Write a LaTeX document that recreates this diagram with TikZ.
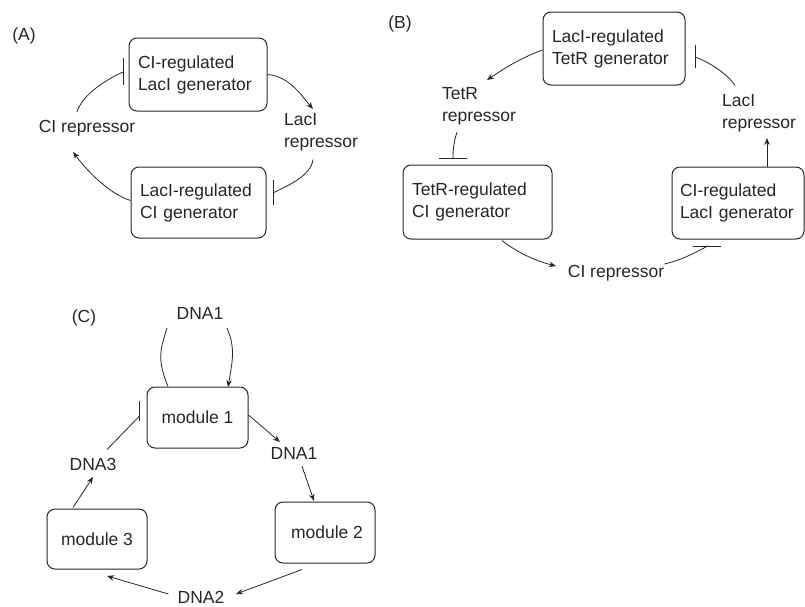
\documentclass[tikz,border=0pt]{standalone}
\usepackage{fontspec}
\setmainfont{Liberation Sans}
\usetikzlibrary{arrows.meta}
\begin{document}
\begin{tikzpicture}[x=1pt,y=-1pt,
  txt/.style={font=\fontsize{17.5}{22}\selectfont, text=black!85},
  box/.style={txt, draw=black!85, rounded corners=8pt, line width=1pt, inner xsep=9pt, inner ysep=0pt, align=left},
  mod/.style={txt, draw=black!85, rounded corners=8pt, line width=1pt, inner sep=0pt},
  lbl/.style={txt, align=left, inner sep=0pt},
  conn/.style={line width=0.8pt, draw=black!85},
  arr/.style={conn, -{Stealth[length=7pt,width=5.5pt]}},
  barline/.style={line width=1pt, draw=black!85}
]
\useasboundingbox (0,0) rectangle (805,606);

% ---------- Panel A ----------
\node[lbl] (la) at (24,36) {(A)};
\node[box, text width=120pt, minimum height=73pt] (a1) at (198,74.5) {CI-regulated\\LacI generator};
\node[box, text width=117pt, minimum height=71pt] (a2) at (198.5,202.5) {LacI-regulated\\CI generator};
\node[lbl] (acI) at (87,128) {CI repressor};
\node[lbl] (alac) at (321,132.5) {LacI\\repressor};

\coordinate (a1end) at (313,109);
\coordinate (a2bar) at (273,193);
\coordinate (a3end) at (73,152);
\coordinate (a4bar) at (123,72);

\draw[arr] (a1.east) .. controls +(22,2) and +(-12,-14) .. (a1end);
\draw[conn] ([shift={(-8,8)}]alac.south) .. controls +(-2,16) and +(16,-8) .. (a2bar);
\draw[barline] (a2bar) ++(0,-13) -- ++(0,25);
\draw[arr] ([shift={(0,-2)}]a2.west) .. controls +(-24,-8) and +(12,16) .. (a3end);
\draw[conn] ([shift={(-10,-8)}]acI.north) .. controls +(5,-16) and +(-20,9) .. (a4bar);
\draw[barline] (a4bar) ++(0,-14) -- ++(0,27);

% ---------- Panel B ----------
\node[lbl] (lb) at (400,24) {(B)};
\node[box, text width=124pt, minimum height=73pt] (b1) at (614,48.5) {LacI-regulated\\TetR generator};
\node[box, text width=131pt, minimum height=74pt] (b2) at (477.5,202) {TetR-regulated\\CI generator};
\node[box, text width=116pt, inner xsep=8pt, minimum height=72pt] (b3) at (738,203) {CI-regulated\\LacI generator};
\node[lbl] (btet) at (479,106) {TetR\\repressor};
\node[lbl] (bcI) at (616,273) {CI repressor};
\node[lbl] (blac) at (759,113.5) {LacI\\repressor};

\coordinate (b1end) at (487,80);
\coordinate (b2bar) at (453,158);
\coordinate (b3end) at (556,266);
\coordinate (b4bar) at (708,246);
\coordinate (b5end) at (767,138);
\coordinate (b6bar) at (695,57);

\draw[arr] ([shift={(0,1.5)}]b1.west) .. controls +(-22,8) and +(18,-12) .. (b1end);
\draw[conn] ([shift={(-22,7)}]btet.south) .. controls +(-3,10) and +(0,-10) .. (b2bar);
\draw[barline] (b2bar) ++(-14,0) -- ++(28,0);
\draw[arr] ([shift={(24.5,1)}]b2.south) .. controls +(15,12) and +(-20,-5) .. (b3end);
\draw[conn] ([shift={(0,-9)}]bcI.east) .. controls +(18,-4) and +(-12,6) .. (b4bar);
\draw[barline] (b4bar) ++(-15,0) -- ++(28,0);
\draw[arr] ([shift={(29,0)}]b3.north) -- (b5end);
\draw[conn] ([shift={(-24,-9)}]blac.north) .. controls +(-8,-12) and +(14,5) .. (b6bar);
\draw[barline] (b6bar) ++(0,-12) -- ++(0,23);

% ---------- Panel C ----------
\node[lbl] (lc) at (84,318) {(C)};
\node[lbl] (dna1t) at (200,313) {DNA1};
\node[mod, minimum width=101pt, minimum height=61pt] (m1) at (197.5,417.5) {module 1};
\node[mod, minimum width=100pt, minimum height=61pt] (m2) at (325,532.5) {\hspace{4pt}module 2};
\node[mod, minimum width=100pt, minimum height=60pt] (m3) at (97,539) {module 3};
\node[lbl] (dna1r) at (294,453) {DNA1};
\node[lbl] (dna2) at (201,597) {DNA2};
\node[lbl] (dna3) at (93,464) {DNA3};

\coordinate (c1end) at (228,387);
\coordinate (c2end) at (280,442);
\coordinate (c3end) at (314,501);
\coordinate (c4end) at (236,594);
\coordinate (c5end) at (107,576);
\coordinate (c6end) at (93,477);
\coordinate (c7bar) at (139.5,416);

\draw[conn] ([shift={(-29.5,0)}]m1.north) .. controls +(-10,-25) and +(-8,24) .. ([shift={(-33,9)}]dna1t.south);
\draw[arr] ([shift={(27,9)}]dna1t.south) .. controls +(9,20) and +(4,-24) .. (c1end);
\draw[arr] ([shift={(0,-2.5)}]m1.east) -- (c2end);
\draw[arr] ([shift={(8,7)}]dna1r.south) -- (c3end);
\draw[arr] ([shift={(-23,6)}]m2.south) -- (c4end);
\draw[arr] ([shift={(-9,-3)}]dna2.west) -- (c5end);
\draw[arr] ([shift={(-24,-1)}]m3.north) -- (c6end);
\draw[conn] ([shift={(14,-8)}]dna3.north) -- (c7bar);
\draw[barline] (c7bar) ++(0,-15) -- ++(0,20);
\end{tikzpicture}
\end{document}
